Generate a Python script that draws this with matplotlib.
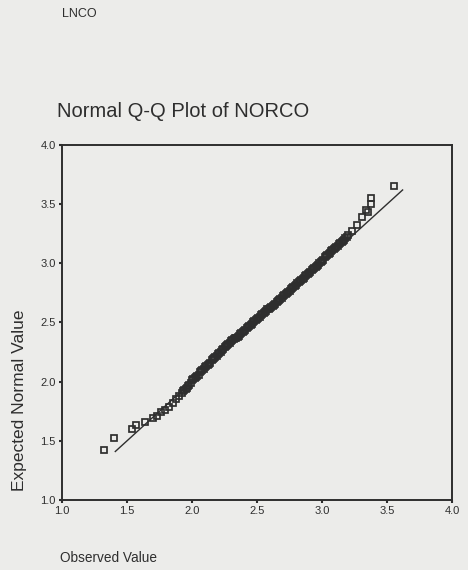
import matplotlib
matplotlib.use("Agg")
import matplotlib.pyplot as plt

observed = [1.32, 1.40, 1.54, 1.57, 1.64, 1.70, 1.73, 1.76, 1.79, 1.82, 1.85, 1.88,
            1.90, 1.92, 1.93, 1.94,
            1.95, 1.96, 1.97, 1.98, 1.99,
            2.00, 2.01, 2.02, 2.03, 2.04, 2.05, 2.06, 2.07, 2.08, 2.09,
            2.10, 2.11, 2.12, 2.13, 2.14, 2.15, 2.16, 2.17, 2.18, 2.19,
            2.20, 2.21, 2.22, 2.23, 2.24, 2.25, 2.26, 2.27, 2.28, 2.29,
            2.30, 2.31, 2.32, 2.33, 2.34, 2.35, 2.36, 2.37, 2.38, 2.39,
            2.40, 2.41, 2.42, 2.43, 2.44, 2.45, 2.46, 2.47, 2.48, 2.49,
            2.50, 2.51, 2.52, 2.53, 2.54, 2.55, 2.56, 2.57, 2.58, 2.59,
            2.60, 2.61, 2.62, 2.63, 2.64, 2.65, 2.66, 2.67, 2.68, 2.69,
            2.70, 2.71, 2.72, 2.73, 2.74, 2.75, 2.76, 2.77, 2.78, 2.79,
            2.80, 2.81, 2.82, 2.83, 2.84, 2.85, 2.86, 2.87, 2.88, 2.89,
            2.90, 2.91, 2.92, 2.93, 2.94, 2.95, 2.96, 2.97, 2.98, 2.99,
            3.00, 3.01, 3.02, 3.03, 3.04, 3.05, 3.06, 3.07, 3.08, 3.09,
            3.10, 3.11, 3.12, 3.13, 3.14, 3.15, 3.16, 3.17, 3.18, 3.19,
            3.20, 3.23, 3.27, 3.31, 3.34, 3.35, 3.38, 3.38, 3.55]
expected = [1.42, 1.52, 1.60, 1.63, 1.66, 1.69, 1.71, 1.74, 1.76, 1.79, 1.82, 1.85,
            1.88, 1.90, 1.92, 1.93,
            1.94, 1.95, 1.96, 1.97, 1.99,
            2.01, 2.02, 2.03, 2.04, 2.05, 2.06, 2.08, 2.09, 2.10, 2.11,
            2.12, 2.13, 2.14, 2.15, 2.16, 2.18, 2.19, 2.20, 2.21, 2.22,
            2.23, 2.24, 2.25, 2.27, 2.28, 2.29, 2.30, 2.31, 2.32, 2.33,
            2.34, 2.35, 2.36, 2.37, 2.37, 2.38, 2.39, 2.40, 2.41, 2.42,
            2.43, 2.44, 2.45, 2.46, 2.47, 2.48, 2.49, 2.50, 2.51, 2.52,
            2.53, 2.54, 2.55, 2.56, 2.57, 2.58, 2.59, 2.60, 2.61, 2.61,
            2.62, 2.63, 2.64, 2.65, 2.66, 2.67, 2.68, 2.69, 2.70, 2.71,
            2.72, 2.73, 2.74, 2.75, 2.76, 2.77, 2.78, 2.79, 2.80, 2.81,
            2.82, 2.83, 2.84, 2.85, 2.86, 2.87, 2.88, 2.89, 2.90, 2.91,
            2.92, 2.93, 2.94, 2.95, 2.96, 2.97, 2.98, 2.99, 3.00, 3.01,
            3.02, 3.03, 3.05, 3.06, 3.07, 3.08, 3.09, 3.10, 3.11, 3.12,
            3.13, 3.14, 3.15, 3.16, 3.17, 3.18, 3.19, 3.20, 3.21, 3.22,
            3.24, 3.27, 3.32, 3.39, 3.45, 3.43, 3.50, 3.55, 3.65]
line_ends = [1.41, 3.62]
ticks = [1.0, 1.5, 2.0, 2.5, 3.0, 3.5, 4.0]
tick_labels = ["1.0", "1.5", "2.0", "2.5", "3.0", "3.5", "4.0"]

FONT = "Liberation Sans"
bg = "#ececea"
ink = "#2e2e2e"
fig = plt.figure(figsize=(4.68, 5.70), dpi=100, facecolor=bg)
ax = fig.add_axes([62/468, 1 - 500/570, (452 - 62)/468, (500 - 145)/570])
ax.set_facecolor(bg)

ax.plot(line_ends, line_ends, color=ink, lw=1.0, zorder=2)
ax.plot(observed, expected, linestyle="none", marker="s", markersize=4.6,
        markerfacecolor="none", markeredgecolor=ink, markeredgewidth=1.25, zorder=3)

ax.set_xlim(1.0, 4.0)
ax.set_ylim(1.0, 4.0)
ax.set_xticks(ticks)
ax.set_xticklabels(tick_labels)
ax.set_yticks(ticks)
ax.set_yticklabels(tick_labels)
for lab in ax.get_xticklabels() + ax.get_yticklabels():
    lab.set_fontfamily(FONT)
    lab.set_fontsize(8)
    lab.set_color(ink)
ax.tick_params(length=2.5, width=1.5, color=ink, pad=2)
for s in ax.spines.values():
    s.set_linewidth(1.4)
    s.set_color(ink)

fig.text(62/468, 1 - 14/570, "LNCO", family=FONT, fontsize=9, color=ink,
         ha="left", va="center")
fig.text(57/468, 1 - 112/570, "Normal Q-Q Plot of NORCO", family=FONT, fontsize=14.5,
         color=ink, ha="left", va="center")
fig.text(60/468, 1 - 558/570, "Observed Value", family=FONT, fontsize=9.8,
         color=ink, ha="left", va="center")
fig.text(20/468, 1 - 400/570, "Expected Normal Value", family=FONT,
         fontsize=12.5, color=ink, ha="center", va="center", rotation=90)

fig.savefig("out.png", dpi=100, facecolor=bg)
